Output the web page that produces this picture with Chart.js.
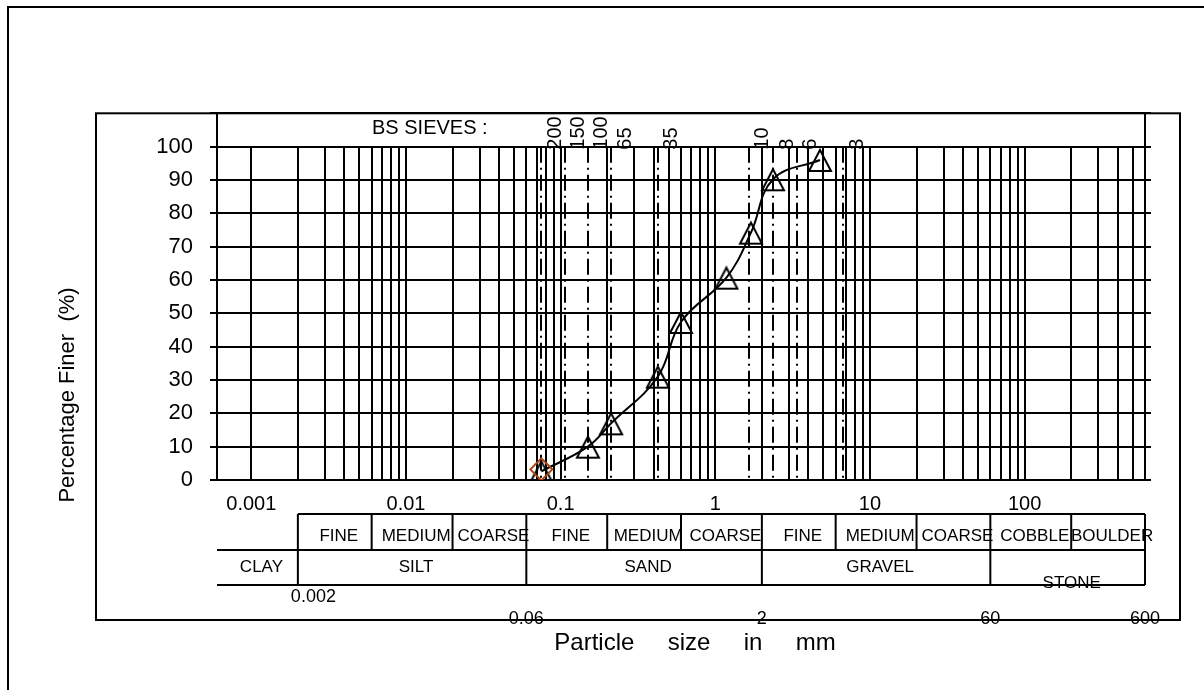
<!DOCTYPE html>
<html>
<head>
<meta charset="utf-8">
<title>Particle size distribution</title>
<script src="https://cdn.jsdelivr.net/npm/chart.js@4.4.1/dist/chart.umd.min.js"></script>
<style>
  html, body { margin: 0; padding: 0; background: #fff; }
</style>
</head>
<body>
<canvas id="grading" width="1204" height="690"></canvas>
<script>
// sieve analysis results (mm, % finer)
const sizes = [0.075, 0.15, 0.212, 0.425, 0.6, 1.18, 1.7, 2.36, 4.75];
const finer = [2.6, 10, 17, 31, 47.4, 60.7, 74.2, 90.2, 96];
const firstSize = [0.075];
const firstFiner = [3.2];

// BS sieve lines
const sieveNums = ['200', '150', '100', '65', '35', '10', '8', '6', '3'];
const sieveSizes = [0.075, 0.106, 0.15, 0.212, 0.425, 1.65, 2.36, 3.35, 6.7];

// axes
const xMin = 0.0006, xMax = 600;
const yMax = 110, yTop = 100;
const decadeValues = [0.001, 0.01, 0.1, 1, 10, 100];
const decadeLabels = ['0.001', '0.01', '0.1', '1', '10', '100'];

// soil classification table
const subBounds = [0.002, 0.006, 0.02, 0.06, 0.2, 0.6, 2, 6, 20, 60, 200, 600];
const subLabels = ['FINE', 'MEDIUM', 'COARSE', 'FINE', 'MEDIUM', 'COARSE', 'FINE', 'MEDIUM', 'COARSE', 'COBBLE', 'BOULDER'];
const mainBounds = [0.0006, 0.002, 0.06, 2, 60, 600];
const mainLabels = ['CLAY', 'SILT', 'SAND', 'GRAVEL', 'STONE'];
const boundValues = [0.002, 0.06, 2, 60, 600];
const boundLabels = ['0.002', '0.06', '2', '60', '600'];

const FONT = '"Liberation Sans", Arial, sans-serif';
const BROWN = '#a9420f';

function gridValues() {
    const out = [];
    for (let e = -3; e <= 2; e++) {
        for (let m = 1; m <= 9; m++) {
            const v = parseFloat((m * Math.pow(10, e)).toPrecision(6));
            if (v >= xMin && v <= xMax) out.push(v);
        }
    }
    return out;
}

function tickLabel(v) {
    const i = decadeValues.findIndex(d => Math.abs(d - v) / d < 1e-6);
    return i >= 0 ? decadeLabels[i] : '';
}

// open triangle, centred on its box like the spreadsheet marker
function makeTriangle(size) {
    const c = document.createElement('canvas');
    c.width = size;
    c.height = size;
    const g = c.getContext('2d');
    g.strokeStyle = '#000';
    g.lineWidth = 2;
    g.beginPath();
    g.moveTo(size / 2, 3);
    g.lineTo(size - 2, size - 2);
    g.lineTo(2, size - 2);
    g.closePath();
    g.stroke();
    return c;
}

function line(ctx, x1, y1, x2, y2) {
    ctx.beginPath();
    ctx.moveTo(x1, y1);
    ctx.lineTo(x2, y2);
    ctx.stroke();
}

const gradingFrame = {
    id: 'gradingFrame',
    beforeDatasetsDraw(chart) {
        const { ctx, scales: { x, y } } = chart;
        const top = y.getPixelForValue(yTop);
        const bottom = y.getPixelForValue(0);
        ctx.save();
        ctx.strokeStyle = '#000';
        ctx.lineWidth = 2;
        x.ticks.forEach(t => {
            const px = Math.round(x.getPixelForValue(t.value));
            line(ctx, px, top, px, bottom);
        });
        ctx.setLineDash([16, 5, 2, 5]);
        sieveSizes.forEach(s => {
            const px = Math.round(x.getPixelForValue(s));
            line(ctx, px, top, px, bottom);
        });
        ctx.restore();
    },
    afterDraw(chart) {
        const { ctx, scales: { x, y } } = chart;
        const px = v => x.getPixelForValue(v);
        const top100 = y.getPixelForValue(yTop);
        const frameTop = y.getPixelForValue(yMax);

        ctx.save();
        ctx.strokeStyle = '#000';
        ctx.fillStyle = '#000';
        ctx.lineWidth = 2;

        // frames
        ctx.strokeRect(8, 7, 1400, 900);
        ctx.strokeRect(96, frameTop, 1180 - 96, 620 - frameTop);

        // BS sieves band
        ctx.font = '20px ' + FONT;
        ctx.textBaseline = 'middle';
        ctx.textAlign = 'left';
        ctx.fillText('BS SIEVES :', 372, frameTop + 15);
        sieveNums.forEach((n, i) => {
            ctx.save();
            ctx.translate(px(sieveSizes[i]) + 14, top100 + 3);
            ctx.rotate(-Math.PI / 2);
            ctx.fillText(n, 0, 0);
            ctx.restore();
        });

        // classification table
        const rowTop = 514, rowMid = 550, rowBot = 585;
        line(ctx, px(subBounds[0]), rowTop, px(xMax), rowTop);
        line(ctx, px(xMin), rowMid, px(xMax), rowMid);
        line(ctx, px(xMin), rowBot, px(xMax), rowBot);
        subBounds.forEach(b => {
            const full = mainBounds.includes(b);
            line(ctx, px(b), rowTop, px(b), full ? rowBot : rowMid);
        });

        ctx.font = '17px ' + FONT;
        ctx.textAlign = 'center';
        subLabels.forEach((t, i) => {
            const cx = px(Math.sqrt(subBounds[i] * subBounds[i + 1])) + 4;
            ctx.fillText(t, cx, 536);
        });
        mainLabels.forEach((t, i) => {
            const cx = px(Math.sqrt(mainBounds[i] * mainBounds[i + 1])) + 4;
            ctx.fillText(t, cx, t === 'STONE' ? 583 : 567);
        });

        ctx.font = '18px ' + FONT;
        boundLabels.forEach((t, i) => {
            if (i === 0) {
                ctx.textAlign = 'left';
                ctx.fillText(t, px(boundValues[i]) - 7, 597);
            } else {
                ctx.textAlign = 'center';
                ctx.fillText(t, px(boundValues[i]), 619);
            }
        });

        // axis titles
        ctx.textAlign = 'center';
        ctx.font = '24px ' + FONT;
        ctx.fillText('Particle     size     in     mm', 695, 643);
        ctx.save();
        ctx.translate(68, 395);
        ctx.rotate(-Math.PI / 2);
        ctx.font = '22px ' + FONT;
        ctx.fillText('Percentage Finer  (%)', 0, 0);
        ctx.restore();

        ctx.restore();
    }
};

const tri = makeTriangle(26);

new Chart(document.getElementById('grading'), {
    type: 'line',
    data: {
        datasets: [
            {
                label: 'first sieve',
                data: firstSize.map((s, i) => ({ x: s, y: firstFiner[i] })),
                showLine: false,
                pointStyle: 'rectRot',
                pointRadius: 11,
                pointBorderWidth: 2,
                pointBorderColor: BROWN,
                pointBackgroundColor: 'rgba(0,0,0,0)'
            },
            {
                label: 'grading',
                data: sizes.map((s, i) => ({ x: s, y: finer[i] })),
                borderColor: '#000',
                borderWidth: 2,
                tension: 0.4,
                fill: false,
                pointStyle: tri,
                pointRadius: 12
            }
        ]
    },
    options: {
        responsive: false,
        animation: false,
        layout: { padding: { left: 17, top: 113.3, right: 50, bottom: 150 } },
        plugins: {
            legend: { display: false },
            tooltip: { enabled: false }
        },
        scales: {
            x: {
                type: 'logarithmic',
                min: xMin,
                max: xMax,
                afterBuildTicks: s => { s.ticks = gridValues().map(v => ({ value: v })); },
                afterFit: s => { s.height = 60; },
                grid: { display: true, drawOnChartArea: false, drawTicks: false },
                border: { display: true, color: '#000', width: 2 },
                ticks: {
                    autoSkip: false,
                    maxRotation: 0,
                    padding: 12,
                    color: '#000',
                    font: { family: FONT, size: 20 },
                    callback: v => tickLabel(v)
                }
            },
            y: {
                min: 0,
                max: yMax,
                afterFit: s => { s.width = 200; },
                grid: { color: '#000', lineWidth: 2, tickLength: 7 },
                border: { color: '#000', width: 2 },
                ticks: {
                    stepSize: 10,
                    padding: 17,
                    color: '#000',
                    font: { family: FONT, size: 22 },
                    callback: v => (v > yTop ? '' : v)
                }
            },
            yr: {
                position: 'right',
                min: 0,
                max: yMax,
                afterFit: s => { s.width = 9; },
                grid: { drawOnChartArea: false, color: '#000', lineWidth: 2, tickLength: 6 },
                border: { color: '#000', width: 2 },
                ticks: { stepSize: 10, display: false }
            }
        }
    },
    plugins: [gradingFrame]
});
</script>
</body>
</html>
